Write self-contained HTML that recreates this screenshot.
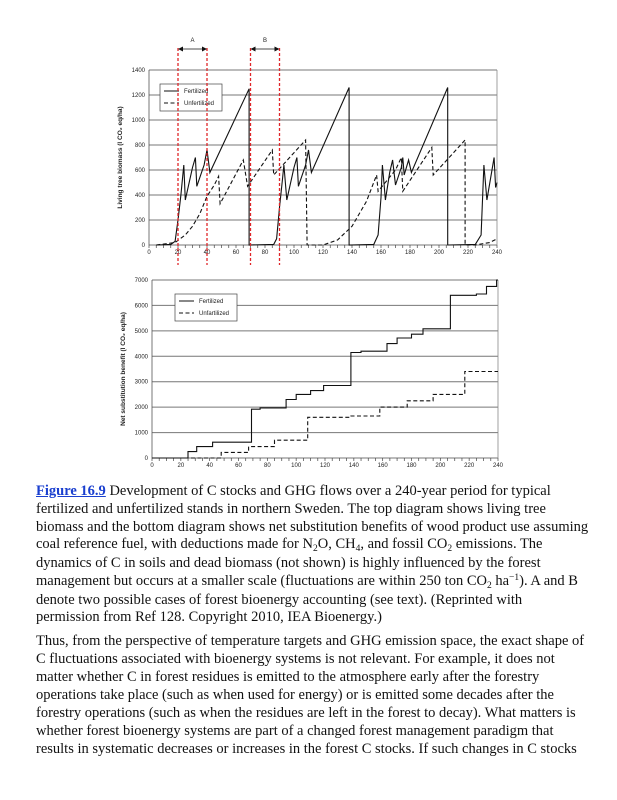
<!DOCTYPE html>
<html><head><meta charset="utf-8"><style>
body{margin:0;background:#fff;width:617px;height:800px;overflow:hidden;position:relative;font-family:"Liberation Serif",serif;}
.l{position:absolute;left:36px;font-size:14.5px;white-space:nowrap;color:#111;line-height:16px}
.l sub,.l sup{font-size:9.5px;line-height:0;position:relative;vertical-align:baseline}
.l sub{top:3px}.l sup{top:-5px}
svg{position:absolute;left:0;top:0}
svg text{font-family:"Liberation Sans",sans-serif;font-size:6px;fill:#222}
a{color:#1a3fcf;font-weight:bold;text-decoration:underline}
</style></head><body>
<svg id="s" width="617" height="480"></svg>
<div class="l" style="top:483px"><a>Figure 16.9</a> Development of C stocks and GHG flows over a 240-year period for typical</div>
<div class="l" style="top:501px">fertilized and unfertilized stands in northern Sweden. The top diagram shows living tree</div>
<div class="l" style="top:519px">biomass and the bottom diagram shows net substitution benefits of wood product use assuming</div>
<div class="l" style="top:536px">coal reference fuel, with deductions made for N<sub>2</sub>O, CH<sub>4</sub>, and fossil CO<sub>2</sub> emissions. The</div>
<div class="l" style="top:555px">dynamics of C in soils and dead biomass (not shown) is highly influenced by the forest</div>
<div class="l" style="top:573px">management but occurs at a smaller scale (fluctuations are within 250 ton CO<sub>2</sub> ha<sup>−1</sup>). A and B</div>
<div class="l" style="top:592px">denote two possible cases of forest bioenergy accounting (see text). (Reprinted with</div>
<div class="l" style="top:609px">permission from Ref 128. Copyright 2010, IEA Bioenergy.)</div>
<div class="l" style="top:633px">Thus, from the perspective of temperature targets and GHG emission space, the exact shape of</div>
<div class="l" style="top:651px">C fluctuations associated with bioenergy systems is not relevant. For example, it does not</div>
<div class="l" style="top:669px">matter whether C in forest residues is emitted to the atmosphere early after the forestry</div>
<div class="l" style="top:687px">operations take place (such as when used for energy) or is emitted some decades after the</div>
<div class="l" style="top:705px">forestry operations (such as when the residues are left in the forest to decay). What matters is</div>
<div class="l" style="top:723px">whether forest bioenergy systems are part of a changed forest management paradigm that</div>
<div class="l" style="top:741px">results in systematic decreases or increases in the forest C stocks. If such changes in C stocks</div>
<script>
var s='';
function chart(L,R,T,B,ymax,ystep,fert,unf,legY,legX,ylab,lab2){
  var X=function(v){return L+(R-L)*v/240},Y=function(v){return B-(B-T)*v/ymax};
  for(var v=0;v<=ymax;v+=ystep){s+='<line x1="'+L+'" x2="'+R+'" y1="'+Y(v)+'" y2="'+Y(v)+'" stroke="#777" stroke-width="1"/>';
    s+='<text x="'+(L-4)+'" y="'+(Y(v)+2)+'" text-anchor="end">'+v+'</text>';}
  s+='<line x1="'+L+'" x2="'+L+'" y1="'+T+'" y2="'+B+'" stroke="#555" stroke-width="0.8"/>';
  s+='<line x1="'+R+'" x2="'+R+'" y1="'+T+'" y2="'+B+'" stroke="#888" stroke-width="0.8"/>';
  for(var t=0;t<=240;t+=5){s+='<line x1="'+X(t)+'" x2="'+X(t)+'" y1="'+B+'" y2="'+(B+3)+'" stroke="#444" stroke-width="0.7"/>';}
  for(var t=0;t<=240;t+=20){s+='<text x="'+X(t)+'" y="'+(B+9)+'" text-anchor="middle">'+t+'</text>';}
  function pl(d,dash){var p=d.map(function(q){return X(q[0]).toFixed(1)+','+Y(q[1]).toFixed(1)}).join(' ');
    s+='<polyline points="'+p+'" fill="none" stroke="#111" stroke-width="1.1"'+(dash?' stroke-dasharray="4,2.5"':'')+'/>';}
  pl(fert,0);pl(unf,1);
  s+='<rect x="'+legX+'" y="'+legY+'" width="62" height="27" fill="#fff" stroke="#444" stroke-width="0.7"/>';
  s+='<line x1="'+(legX+4)+'" x2="'+(legX+19)+'" y1="'+(legY+7)+'" y2="'+(legY+7)+'" stroke="#111"/>';
  s+='<line x1="'+(legX+4)+'" x2="'+(legX+19)+'" y1="'+(legY+19)+'" y2="'+(legY+19)+'" stroke="#111" stroke-dasharray="4,2.5"/>';
  s+='<text x="'+(legX+24)+'" y="'+(legY+9)+'">Fertilized</text><text x="'+(legX+24)+'" y="'+(legY+21)+'">'+lab2+'</text>';
  s+='<text transform="translate('+(L-27)+','+((T+B)/2)+') rotate(-90)" text-anchor="middle" style="font-weight:bold;font-size:6.5px">'+ylab+'</text>';
  return X;
}
var f1=[[5,0],[15,5],[18,30],[20,200],[22,400],[24,640],[25,360],[30,620],[32,700],[33,470],[38,640],[40,760],[42,580],[69,1250],[69,0],[86,5],[88,50],[90,300],[92,520],[93,640],[95,360],[100,620],[102,700],[103,470],[108,640],[110,760],[112,580],[138,1260],[138,0],[155,5],[158,80],[160,380],[161,640],[163,360],[166,580],[168,680],[170,480],[174,620],[175,700],[176,560],[179,680],[181,580],[206,1260],[206,0],[225,5],[229,80],[231,640],[233,360],[238,700],[239,460],[240,500]];
var u1=[[5,0],[18,20],[25,80],[30,150],[35,250],[40,390],[45,480],[48,550],[49,330],[65,680],[68,470],[85,760],[86,560],[108,840],[109,0],[120,0],[130,40],[140,150],[150,350],[157,560],[158,430],[170,600],[174,700],[175,430],[195,780],[196,560],[218,840],[218,0],[225,0],[235,20],[240,50]];
var X=chart(149,497,70,245,1400,200,f1,u1,84,160,'Living tree biomass (l CO\u2082 eq/ha)','Unfertilized');
function st(a,start){var r=[[start,0]],c=0;a.forEach(function(q){r.push([q[0],c]);r.push([q[0],q[1]]);c=q[1];});r.push([240,c]);return r;}
var f2=st([[25,250],[31,450],[42,620],[69,1920],[75,1970],[93,2300],[100,2500],[110,2650],[119,2850],[138,4150],[145,4200],[163,4500],[170,4720],[180,4870],[188,5080],[207,6400],[225,6450],[232,6750],[239,7000]],0);
var u2=st([[48,220],[67,450],[85,700],[108,1600],[138,1650],[158,2000],[177,2250],[195,2500],[217,3400]],0);
chart(152,498,280,458,7000,1000,f2,u2,294,175,'Net substitution benefit (l CO\u2082 eq/ha)','Unfartilized');
[20,40,70,90].forEach(function(y){var x=X(y);s+='<line x1="'+x+'" x2="'+x+'" y1="48" y2="265" stroke="#e0262a" stroke-width="1.3" stroke-dasharray="3,2"/>';});
[[20,40,'A'],[70,90,'B']].forEach(function(p){var a=X(p[0]),b=X(p[1]),y=49;
 s+='<line x1="'+(a+3)+'" x2="'+(b-3)+'" y1="'+y+'" y2="'+y+'" stroke="#111" stroke-width="0.8"/>';
 s+='<polygon points="'+a+','+y+' '+(a+5)+','+(y-2.5)+' '+(a+5)+','+(y+2.5)+'" fill="#111"/>';
 s+='<polygon points="'+b+','+y+' '+(b-5)+','+(y-2.5)+' '+(b-5)+','+(y+2.5)+'" fill="#111"/>';
 s+='<text x="'+((a+b)/2)+'" y="42" text-anchor="middle">'+p[2]+'</text>';});
document.getElementById('s').innerHTML=s;
</script>
</body></html>
